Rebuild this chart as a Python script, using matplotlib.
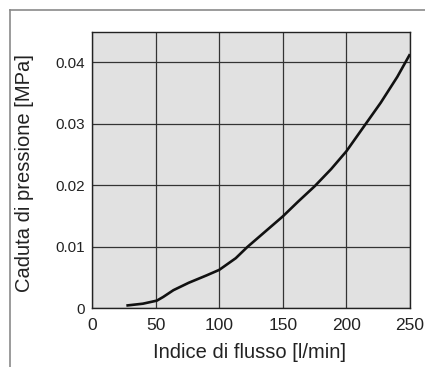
import matplotlib.pyplot as plt
from matplotlib.lines import Line2D

# flow rate (l/min) vs pressure drop (MPa)
flow = [27, 40, 51, 56, 64, 76, 90, 100, 113, 122, 136, 150, 162, 175, 188, 200, 214, 227, 240, 250]
drop = [0.0004, 0.0007, 0.0012, 0.0018, 0.0029, 0.0041, 0.0053, 0.0062, 0.0081, 0.0099,
        0.0124, 0.0149, 0.0173, 0.0198, 0.0226, 0.0255, 0.0296, 0.0334, 0.0376, 0.0413]

x_ticks = [0, 50, 100, 150, 200, 250]
y_ticks = [0, 0.01, 0.02, 0.03, 0.04]
y_labels = ['0', '0.01', '0.02', '0.03', '0.04']

plt.rcParams['font.family'] = ['Liberation Sans', 'DejaVu Sans']

fig = plt.figure(figsize=(4.25, 3.67), dpi=100)
ax = fig.add_axes([92 / 425, 1 - 308 / 367, 318 / 425, 276 / 367])

ax.set_facecolor('#e1e1e1')
ax.plot(flow, drop, color='#111111', lw=1.9, solid_capstyle='butt')

ax.set_xlim(0, 250)
ax.set_ylim(0, 0.0449)
ax.set_xticks(x_ticks)
ax.set_yticks(y_ticks)
ax.set_yticklabels(y_labels)
ax.tick_params(length=0, colors='#222222')
ax.tick_params(axis='x', labelsize=12.5, pad=7)
ax.tick_params(axis='y', labelsize=11, pad=5)
ax.grid(True, color='#333333', lw=0.9)
ax.set_axisbelow(True)
for s in ax.spines.values():
    s.set_color('#222222')
    s.set_linewidth(1.0)

fig.text(25 / 425, 1 - 173 / 367, 'Caduta di pressione [MPa]', rotation=90,
         ha='center', va='center', fontsize=14.5, color='#222222')
fig.text(249 / 425, 1 - 352 / 367, 'Indice di flusso [l/min]',
         ha='center', va='center', fontsize=14.5, color='#222222')

# outer grey frame, cut by the image edges
fig.add_artist(Line2D([9.5 / 425, 1.0], [1 - 10 / 367, 1 - 10 / 367],
                      transform=fig.transFigure, color='#8a8a8a', lw=1.2))
fig.add_artist(Line2D([9.5 / 425, 9.5 / 425], [0.0, 1 - 10 / 367],
                      transform=fig.transFigure, color='#8a8a8a', lw=1.2))

fig.savefig('out.png', dpi=100)
